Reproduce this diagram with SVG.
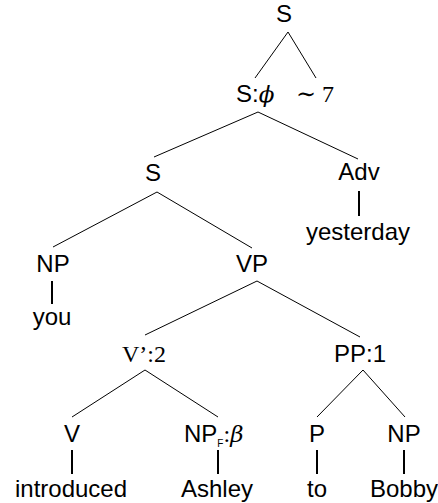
<svg xmlns="http://www.w3.org/2000/svg" width="438" height="503" viewBox="0 0 438 503">
<style>
.l{font-family:"Liberation Sans","DejaVu Sans",sans-serif;font-size:24px;fill:#000;text-anchor:middle}
.s{font-family:"Liberation Serif","DejaVu Serif",serif;font-size:24px}
.m{font-family:"DejaVu Serif","Liberation Serif",serif;font-style:italic;font-size:23px}
.e{stroke:#000;stroke-width:1;fill:none}
.b{stroke:#000;stroke-width:2;fill:none}
</style>
<rect width="438" height="503" fill="#fff"/>
<g id="connectors">
<line class="e" x1="288" y1="32" x2="255" y2="78"/>
<line class="e" x1="288" y1="32" x2="316" y2="78"/>
<line class="e" x1="258" y1="112" x2="154" y2="157"/>
<line class="e" x1="258" y1="112" x2="358" y2="159"/>
<line class="e" x1="157" y1="192" x2="53" y2="247"/>
<line class="e" x1="157" y1="192" x2="252" y2="248"/>
<line class="e" x1="257" y1="281" x2="145" y2="335"/>
<line class="e" x1="257" y1="281" x2="360" y2="337"/>
<line class="e" x1="145" y1="370" x2="72" y2="417"/>
<line class="e" x1="145" y1="370" x2="218" y2="417"/>
<line class="e" x1="363" y1="370" x2="317" y2="417"/>
<line class="e" x1="363" y1="370" x2="405" y2="417"/>
<line class="b" x1="359" y1="191" x2="359" y2="216"/>
<line class="b" x1="52" y1="281" x2="52" y2="304"/>
<line class="b" x1="72" y1="450" x2="72" y2="474"/>
<line class="b" x1="218" y1="450" x2="218" y2="474"/>
<line class="b" x1="317" y1="450" x2="317" y2="474"/>
<line class="b" x1="404" y1="450" x2="404" y2="474"/>
</g>
<g id="n-S-top"><text class="l" x="284" y="22">S</text></g>
<g id="n-Sphi"><text class="l" x="236" y="102" style="text-anchor:start">S:<tspan class="m">ϕ</tspan></text></g>
<g id="n-sim7"><text class="l s" x="296" y="102" style="text-anchor:start"><tspan style="font-family:'DejaVu Serif',serif;font-size:24px">∼</tspan><tspan x="322">7</tspan></text></g>
<g id="n-S"><text class="l" x="153" y="181">S</text></g>
<g id="n-Adv"><text class="l" x="359" y="180">Adv</text></g>
<g id="n-yesterday"><text class="l" x="358" y="240">yesterday</text></g>
<g id="n-NP1"><text class="l" x="53" y="272">NP</text></g>
<g id="n-VP"><text class="l" x="252" y="272">VP</text></g>
<g id="n-you"><text class="l" x="52" y="325">you</text></g>
<g id="n-V2"><text class="l s" x="144" y="362">V’:2</text></g>
<g id="n-PP1"><text class="l" x="360" y="362">PP:1</text></g>
<g id="n-V"><text class="l" x="72" y="442">V</text></g>
<g id="n-NPF"><text class="l" x="184" y="442" style="text-anchor:start">NP<tspan style="font-size:10px" dy="5">F</tspan><tspan dy="-5" class="s">:</tspan><tspan class="m">β</tspan></text></g>
<g id="n-P"><text class="l" x="317" y="442">P</text></g>
<g id="n-NP2"><text class="l" x="404" y="442">NP</text></g>
<g id="n-introduced"><text class="l" x="71" y="497">introduced</text></g>
<g id="n-Ashley"><text class="l" x="217" y="497">Ashley</text></g>
<g id="n-to"><text class="l" x="317" y="497">to</text></g>
<g id="n-Bobby"><text class="l" x="404" y="497">Bobby</text></g>
</svg>
